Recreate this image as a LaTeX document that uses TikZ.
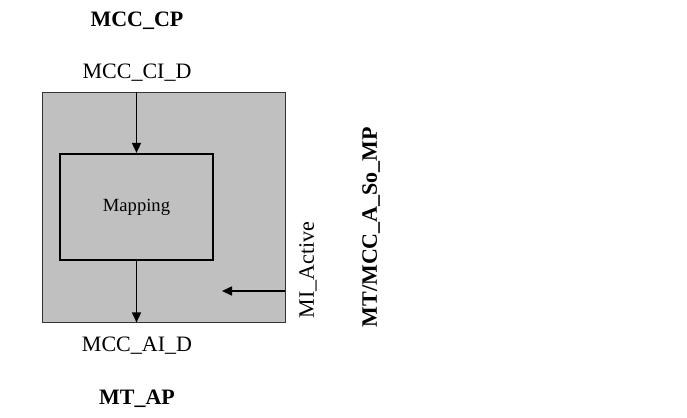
\documentclass[tikz,border=0pt]{standalone}
\usepackage{fontspec}
\setmainfont{Liberation Serif}
\usetikzlibrary{arrows.meta, positioning, calc}

\definecolor{boxgray}{RGB}{192,192,192}

\begin{document}
\begin{tikzpicture}[x=0.5pt, y=-0.5pt,
    lbl/.style={font=\fontsize{11}{13}\selectfont, inner sep=0pt},
    blbl/.style={font=\fontsize{11}{13}\selectfont\bfseries, inner sep=0pt},
    sig/.style={-{Triangle[length=5pt, width=4.5pt]}, line width=0.8pt}]
  \useasboundingbox (0,0) rectangle (687,418);
  % Outer process box
  \node[draw=black!80, line width=0.45pt, fill=boxgray, minimum width=121.5pt,
        minimum height=115pt, inner sep=0pt] (outer) at (163.5,207) {};
  % Mapping function
  \node[draw, line width=1.1pt, minimum width=76.5pt, minimum height=53pt,
        inner sep=0pt, font=\fontsize{9.3}{11}\selectfont] (mapping) at (136.5,207) {Mapping};
  % Access points
  \node[blbl] (cp) at (137,21) {MCC\_CP};
  \node[blbl] (ap) at (137,399) {MT\_AP};
  % Interface signals
  \node[lbl] (cid) at (137,73) {MCC\_CI\_D};
  \node[lbl] (aid) at (137,346) {MCC\_AI\_D};
  \draw[sig] (outer.north -| mapping) -- (mapping.north);
  \draw[sig] (mapping.south) -- (outer.south -| mapping);
  % Management input
  \coordinate (miin) at (outer.east |- 0,291);
  \coordinate (miend) at (222,291);
  \draw[sig] (miin) -- (miend);
  \node[lbl, rotate=90] (mia) at (308,270) {MI\_Active};
  \node[blbl, rotate=90] (mp) at (371,227) {MT/MCC\_A\_So\_MP};
\end{tikzpicture}
\end{document}
